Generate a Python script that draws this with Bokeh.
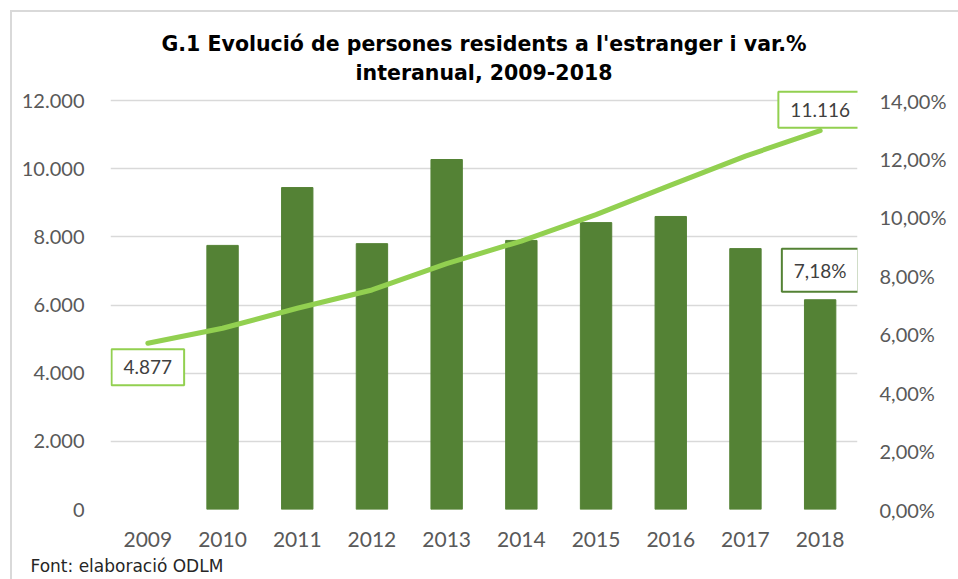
from bokeh.plotting import figure
from bokeh.models import (Range1d, LinearAxis, FixedTicker, CustomJSTickFormatter,
                          Label, Title, FactorRange, ColumnDataSource)
from bokeh.layouts import column
from bokeh.embed import file_html
from bokeh.resources import INLINE

years = ["2009", "2010", "2011", "2012", "2013", "2014", "2015", "2016", "2017", "2018"]
residents = [4877, 5318, 5904, 6441, 7213, 7877, 8651, 9519, 10369, 11116]
var_pct = [float("nan"), 9.04, 11.02, 9.10, 11.98, 9.21, 9.82, 10.03, 8.93, 7.18]
left_ticks = [0, 2000, 4000, 6000, 8000, 10000, 12000]
right_ticks = [0, 2, 4, 6, 8, 10, 12, 14]

BAR = "#548235"
LINE = "#92D050"
TICK = "#595959"

# headroom above the top gridline so the top data label is not clipped
HEAD = 424 / 409

src = ColumnDataSource(dict(year=years, res=residents, pct=var_pct))

p = figure(x_range=FactorRange(*years), y_range=Range1d(0, 12000 * HEAD),
           width=946, height=567, output_backend="svg", toolbar_location=None,
           min_border_left=98, min_border_right=101, min_border_top=73,
           min_border_bottom=70)
p.extra_y_ranges = {"pct": Range1d(0, 14 * HEAD)}

p.vbar(x="year", top="pct", width=0.42, color=BAR, source=src, y_range_name="pct")
p.line(x="year", y="res", line_width=5, line_color=LINE, line_cap="round", source=src)

def style_axis(ax, size):
    ax.axis_line_color = None
    ax.major_tick_line_color = None
    ax.minor_tick_line_color = None
    ax.major_label_text_font = "Lato"
    ax.major_label_text_font_size = size
    ax.major_label_text_color = TICK

yl = p.yaxis[0]
yl.ticker = FixedTicker(ticks=left_ticks)
yl.formatter = CustomJSTickFormatter(code="return tick.toFixed(0).replace(/\\B(?=(\\d{3})+(?!\\d))/g, '.');")
style_axis(yl, "20px")
yl.major_label_standoff = 20

yr = LinearAxis(y_range_name="pct", ticker=FixedTicker(ticks=right_ticks),
                formatter=CustomJSTickFormatter(code="return tick.toFixed(2).replace('.', ',') + '%';"))
style_axis(yr, "20px")
yr.major_label_standoff = 16
p.add_layout(yr, "right")

xa = p.xaxis[0]
style_axis(xa, "21px")
xa.major_label_standoff = 16

p.xgrid.grid_line_color = None
p.ygrid.ticker = FixedTicker(ticks=left_ticks)
p.ygrid.grid_line_color = "#d9d9d9"
p.ygrid.grid_line_width = 1.3
p.outline_line_color = None

title_kw = dict(align="center", text_font="DejaVu Sans", text_font_style="bold",
                text_font_size="20.5px", text_color="#000000", offset=-4)
p.title = Title(text="G.1 Evolució de persones residents a l'estranger i var.%",
                standoff=4, **title_kw)
p.add_layout(Title(text="interanual, 2009-2018", standoff=2, **title_kw), "above")

footer = Title(text="Font: elaboració ODLM", align="left", offset=-80,
               text_font="DejaVu Sans", text_font_style="normal",
               text_font_size="17px", text_color="#262626", standoff=8)
p.add_layout(footer, "below")

def box_label(x, y, text, border, baseline, yoff, pad_v, rng="default"):
    return Label(x=x, y=y, text=text, text_align="center", text_baseline=baseline,
                 y_offset=yoff, text_font="Lato", text_font_size="19px",
                 text_color="#404040", background_fill_color="white",
                 border_line_color=border, border_line_width=2,
                 padding=dict(left=12, right=12, top=pad_v, bottom=pad_v),
                 y_range_name=rng)

p.add_layout(box_label(0.5, residents[0], f"{residents[0]:,}".replace(",", "."), LINE, "top", -6, 11))
p.add_layout(box_label(9.5, residents[-1], f"{residents[-1]:,}".replace(",", "."), LINE, "bottom", 3, 11))
p.add_layout(box_label(9.5, var_pct[-1], f"{var_pct[-1]:.2f}".replace(".", ",") + "%", BAR, "bottom", 8, 10, "pct"))

layout = column(p, margin=(10, 0, 0, 10),
                styles={"border-top": "2px solid #d9d9d9", "border-left": "2px solid #d9d9d9"})

open("out.html", "w").write(file_html(layout, INLINE))
